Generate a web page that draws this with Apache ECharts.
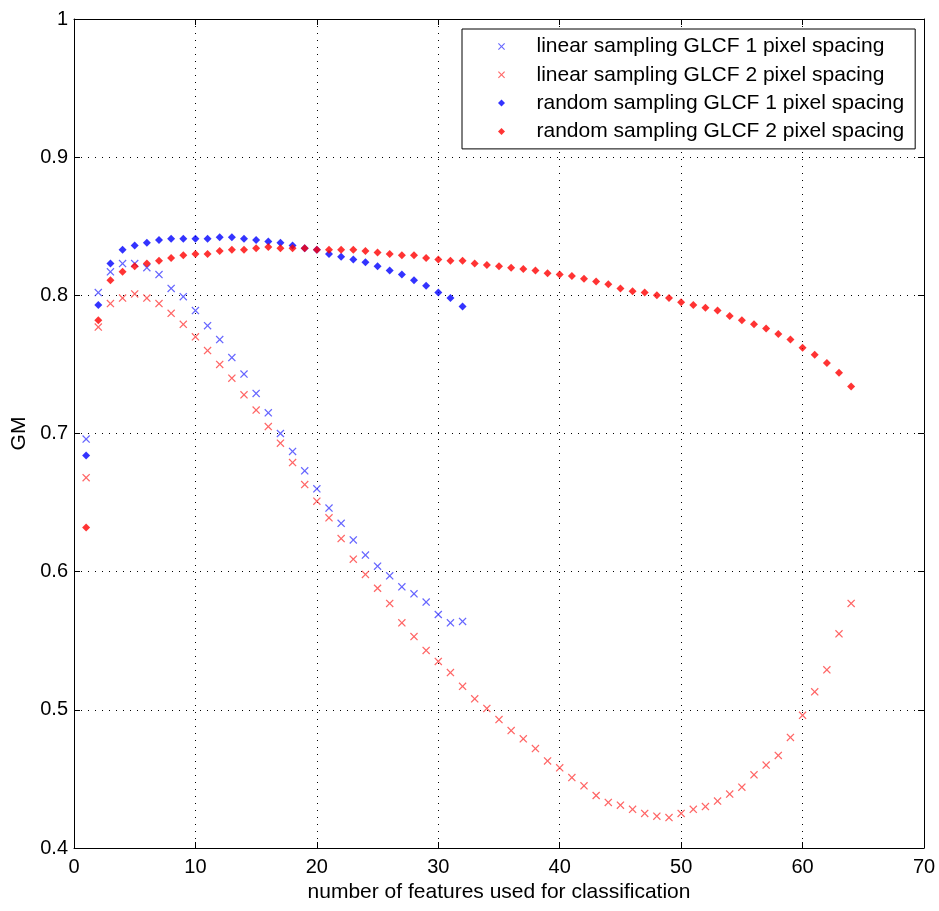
<!DOCTYPE html>
<html>
<head>
<meta charset="utf-8">
<script src="https://cdn.jsdelivr.net/npm/echarts@6/dist/echarts.min.js"></script>
<style>
html,body{margin:0;padding:0;background:#fff;}
#chart{width:939px;height:911px;}
</style>
</head>
<body>
<div id="chart"></div>
<script>
const xTicks = [0, 10, 20, 30, 40, 50, 60, 70];
const yTicks = [0.4, 0.5, 0.6, 0.7, 0.8, 0.9, 1];

const seriesNames = [
  'linear sampling GLCF 1 pixel spacing',
  'linear sampling GLCF 2 pixel spacing',
  'random sampling GLCF 1 pixel spacing',
  'random sampling GLCF 2 pixel spacing'
];

const linear1 = [0.696,0.802,0.817,0.823,0.823,0.820,0.815,0.805,0.799,0.789,
  0.778,0.768,0.755,0.743,0.729,0.715,0.700,0.687,0.673,0.660,
  0.646,0.635,0.623,0.612,0.604,0.597,0.589,0.584,0.578,0.569,
  0.563,0.564];

const linear2 = [0.668,0.777,0.794,0.798,0.801,0.798,0.794,0.787,0.779,0.770,
  0.760,0.750,0.740,0.728,0.717,0.705,0.693,0.679,0.663,0.651,
  0.639,0.624,0.609,0.598,0.588,0.577,0.563,0.553,0.543,0.535,
  0.527,0.517,0.508,0.501,0.493,0.485,0.479,0.472,0.463,0.458,
  0.451,0.445,0.438,0.433,0.431,0.428,0.425,0.423,0.422,0.425,
  0.428,0.430,0.434,0.439,0.444,0.453,0.460,0.467,0.480,0.496,
  0.513,0.529,0.555,0.577];

const random1 = [0.684,0.793,0.823,0.833,0.836,0.838,0.840,0.841,0.841,0.841,
  0.841,0.842,0.842,0.841,0.840,0.839,0.838,0.836,0.834,0.833,
  0.830,0.828,0.826,0.824,0.821,0.818,0.815,0.811,0.807,0.802,
  0.798,0.792];

const random2 = [0.632,0.782,0.811,0.817,0.821,0.823,0.825,0.827,0.829,0.830,
  0.830,0.832,0.833,0.833,0.834,0.835,0.834,0.834,0.834,0.833,
  0.833,0.833,0.833,0.832,0.831,0.830,0.829,0.829,0.827,0.826,
  0.825,0.825,0.823,0.822,0.821,0.820,0.819,0.818,0.816,0.815,
  0.814,0.812,0.810,0.808,0.805,0.803,0.802,0.800,0.798,0.795,
  0.793,0.791,0.789,0.785,0.782,0.779,0.776,0.772,0.768,0.762,
  0.757,0.751,0.744,0.734];

const font = "'Liberation Sans', Arial, Helvetica, sans-serif";
const crossPath = 'path://M0,1.1L1.1,0L5,3.9L8.9,0L10,1.1L6.1,5L10,8.9L8.9,10L5,6.1L1.1,10L0,8.9L3.9,5Z';
const dotPath = 'path://M5,0L10,5L5,10L0,5Z';

function pairs(vals) {
  // x = number of features (1, 2, 3, ...)
  return vals.map((v, i) => [i + 1, v]);
}

const chart = echarts.init(document.getElementById('chart'), null, {renderer: 'canvas'});

const commonX = {
  type: 'value', min: xTicks[0], max: xTicks[xTicks.length - 1], interval: 10
};
const commonY = {
  type: 'value', min: yTicks[0], max: yTicks[yTicks.length - 1], interval: 0.1
};
const gridDots = {show: true, lineStyle: {color: '#000', width: 1, type: [1, 6]}};

chart.setOption({
  backgroundColor: '#fff',
  animation: false,
  textStyle: {fontFamily: font},
  grid: {left: 74, right: 15, top: 19, bottom: 63, containLabel: false},
  legend: {
    orient: 'vertical',
    left: 462, top: 29,
    padding: [7, 11, 7, 36],
    itemWidth: 60, itemHeight: 7,
    itemGap: 7.3,
    symbolKeepAspect: true,
    selectedMode: false,
    backgroundColor: '#fff',
    borderColor: '#000', borderWidth: 1,
    textStyle: {fontFamily: font, fontSize: 21, color: '#000'},
    data: seriesNames
  },
  xAxis: [
    Object.assign({}, commonX, {
      position: 'bottom',
      name: 'number of features used for classification',
      nameLocation: 'middle', nameGap: 34,
      nameTextStyle: {fontFamily: font, fontSize: 21, color: '#000'},
      axisLine: {show: true, onZero: false, lineStyle: {color: '#000', width: 1}},
      axisTick: {show: true, inside: true, length: 6, lineStyle: {color: '#000'}},
      axisLabel: {show: true, margin: 9, fontFamily: font, fontSize: 20, color: '#000',
        formatter: v => String(Math.round(v))},
      splitLine: gridDots
    }),
    Object.assign({}, commonX, {
      position: 'top',
      axisLine: {show: true, onZero: false, lineStyle: {color: '#000', width: 1}},
      axisTick: {show: true, inside: true, length: 6, lineStyle: {color: '#000'}},
      axisLabel: {show: false},
      splitLine: {show: false}
    })
  ],
  yAxis: [
    Object.assign({}, commonY, {
      position: 'left',
      name: 'GM',
      nameLocation: 'middle', nameGap: 44,
      nameTextStyle: {fontFamily: font, fontSize: 21, color: '#000'},
      axisLine: {show: true, onZero: false, lineStyle: {color: '#000', width: 1}},
      axisTick: {show: true, inside: true, length: 6, lineStyle: {color: '#000'}},
      axisLabel: {show: true, margin: 6, fontFamily: font, fontSize: 20, color: '#000',
        formatter: v => String(Math.round(v * 10) / 10)},
      splitLine: gridDots
    }),
    Object.assign({}, commonY, {
      position: 'right',
      axisLine: {show: true, onZero: false, lineStyle: {color: '#000', width: 1}},
      axisTick: {show: true, inside: true, length: 6, lineStyle: {color: '#000'}},
      axisLabel: {show: false},
      splitLine: {show: false}
    })
  ],
  series: [
    {
      name: seriesNames[0], type: 'scatter', xAxisIndex: 0, yAxisIndex: 0,
      symbol: crossPath, symbolSize: 8, symbolKeepAspect: true,
      itemStyle: {color: '#4040ff'},
      data: pairs(linear1)
    },
    {
      name: seriesNames[1], type: 'scatter', xAxisIndex: 0, yAxisIndex: 0,
      symbol: crossPath, symbolSize: 8, symbolKeepAspect: true,
      itemStyle: {color: '#ff4040'},
      data: pairs(linear2)
    },
    {
      name: seriesNames[2], type: 'scatter', xAxisIndex: 0, yAxisIndex: 0,
      symbol: dotPath, symbolSize: 8, symbolKeepAspect: true,
      itemStyle: {color: '#0000ff'},
      data: pairs(random1)
    },
    {
      name: seriesNames[3], type: 'scatter', xAxisIndex: 0, yAxisIndex: 0,
      symbol: dotPath, symbolSize: 8, symbolKeepAspect: true,
      itemStyle: {color: '#ff0000'},
      data: pairs(random2)
    }
  ]
});
</script>
</body>
</html>
